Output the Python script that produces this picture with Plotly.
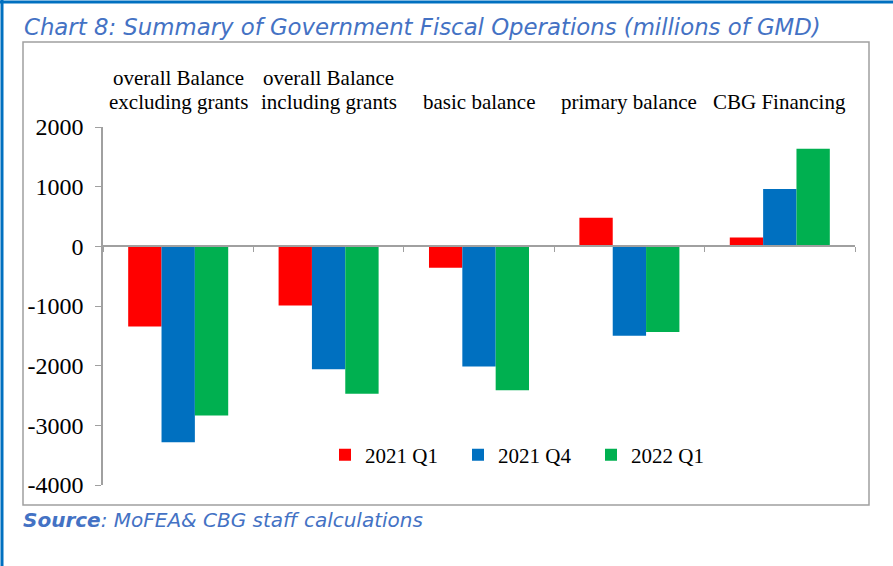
import plotly.graph_objects as go

categories = ["overall Balance<br>excluding grants", "overall Balance<br>including grants",
              "basic balance", "primary balance", "CBG Financing"]
series_names = ["2021 Q1", "2021 Q4", "2022 Q1"]
q1_2021 = [-1345, -990, -360, 478, 150]
q4_2021 = [-3282, -2060, -2015, -1498, 962]
q1_2022 = [-2836, -2471, -2414, -1435, 1634]
series_values = [q1_2021, q4_2021, q1_2022]
series_colors = ["#FF0000", "#0070C0", "#00B050"]
ytick_vals = [-4000, -3000, -2000, -1000, 0, 1000, 2000]
ytick_text = ["-4000", "-3000", "-2000", "-1000", "0", "1000", "2000"]

W, H = 893, 566
L, R, T, B = 103, 38, 127, 81
pw, ph = W - L - R, H - T - B

def px(x):
    return (x - L) / pw

def py(y):
    return (H - B - y) / ph

fig = go.Figure()
for name, vals, col in zip(series_names, series_values, series_colors):
    fig.add_trace(go.Bar(x=categories, y=vals, name=name, marker_color=col,
                         marker_line_width=0))

serif = "Liberation Serif"
ann = []
for c in categories:
    lines = c.split("<br>")
    for i, line in enumerate(reversed(lines)):
        ann.append(dict(x=c, xref="x", y=py(102 - 24 * i), yref="paper",
                        text=line, showarrow=False, xanchor="center", yanchor="middle",
                        font=dict(family=serif, size=21, color="black")))

ann.append(dict(x=px(22), xref="paper", y=py(27), yref="paper", xanchor="left", yanchor="middle",
                text="<i>Chart 8: Summary of Government Fiscal Operations (millions of GMD)</i>",
                showarrow=False, font=dict(family="DejaVu Sans", size=22.8, color="#4472C4")))
ann.append(dict(x=px(21), xref="paper", y=py(520), yref="paper", xanchor="left", yanchor="middle",
                text="<b><i>Source</i></b><i>: MoFEA& CBG staff calculations</i>",
                showarrow=False, font=dict(family="DejaVu Sans", size=20, color="#4472C4")))

shapes = [
    dict(type="rect", xref="paper", yref="paper", x0=px(23), x1=px(869), y0=py(42), y1=py(505),
         line=dict(color="#A0A0A0", width=1.5), layer="below"),
    dict(type="line", xref="paper", yref="paper", x0=px(0), x1=px(W), y0=py(2), y1=py(2),
         line=dict(color="#0070C0", width=3)),
    dict(type="line", xref="paper", yref="paper", x0=px(2), x1=px(2), y0=py(0), y1=py(H),
         line=dict(color="#0070C0", width=3)),
]

fig.update_layout(
    width=W, height=H,
    margin=dict(l=L, r=R, t=T, b=B, autoexpand=False),
    paper_bgcolor="white", plot_bgcolor="white",
    barmode="group", bargap=0.335, bargroupgap=0,
    showlegend=True,
    legend=dict(orientation="h", x=px(325), y=py(455), xanchor="left", yanchor="middle",
                font=dict(family=serif, size=21, color="black"),
                entrywidth=88, bgcolor="rgba(0,0,0,0)"),
    xaxis=dict(type="category", range=[-0.5, 4.5], tickson="boundaries", ticks="outside",
               ticklen=5, tickcolor="#A0A0A0", showticklabels=False, showline=True,
               linecolor="#A0A0A0", linewidth=1.5, showgrid=False, zeroline=False,
               anchor="free", position=4000 / 6000),
    yaxis=dict(range=[-4000, 2000], tickvals=ytick_vals, ticktext=ytick_text, ticks="outside",
               ticklen=6, tickcolor="#A0A0A0", showline=True, linecolor="#A0A0A0", linewidth=1.5,
               showgrid=False, zeroline=False, ticklabelstandoff=7,
               tickfont=dict(family=serif, size=24, color="black")),
    annotations=ann, shapes=shapes,
)
fig.write_html("out.html", config={"displayModeBar": False},
               post_script="document.body.style.margin='0';")
